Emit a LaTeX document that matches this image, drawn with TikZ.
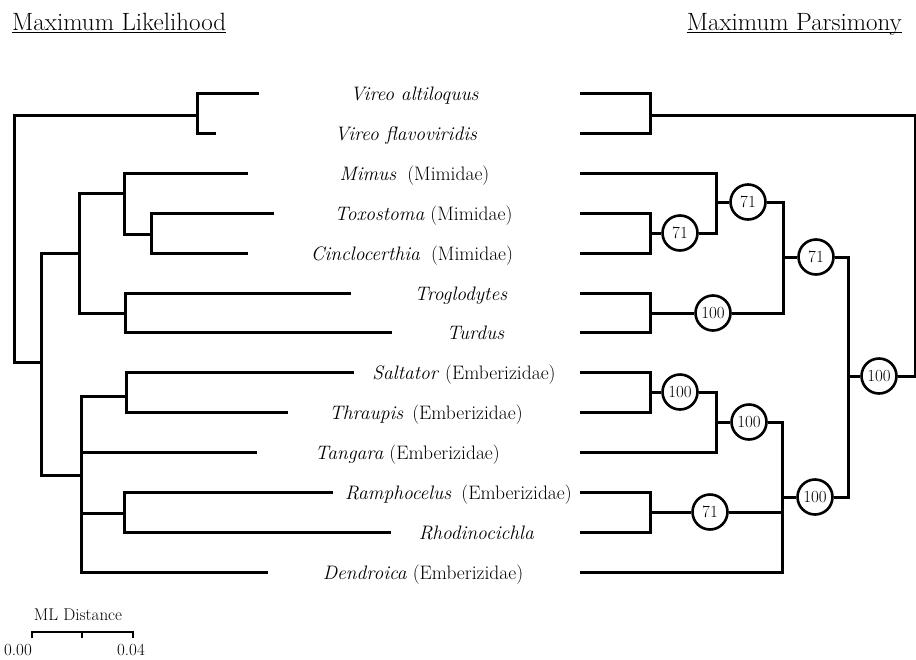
\documentclass[tikz,border=0pt]{standalone}
\begin{document}
\begin{tikzpicture}[x=1pt,y=-1pt,
  br/.style={line width=3pt, line join=miter, line cap=butt},
  lab/.style={anchor=base, inner sep=0pt, font=\fontsize{19.5}{21}\selectfont},
  ttl/.style={inner sep=0pt, font=\fontsize{25}{28}\selectfont},
  bs/.style={circle, draw, line width=2.6pt, minimum size=35pt, inner sep=0pt, fill=white, font=\fontsize{17}{18}\selectfont},
  sml/.style={inner sep=0pt, anchor=base, font=\fontsize{17}{19}\selectfont},
  ]
\useasboundingbox (0,0) rectangle (916,659);
% titles
\node[ttl, anchor=base west] (t1) at (12,30.5) {Maximum Likelihood};
\node[ttl, anchor=base east] (t2) at (902,30.5) {Maximum Parsimony};
\draw[line width=1.2pt] ([yshift=-2pt]t1.base west) -- ([yshift=-2pt]t1.base east);
\draw[line width=1.2pt] ([yshift=-2pt]t2.base west) -- ([yshift=-2pt]t2.base east);
% taxon labels
\node[lab] (l0) at (414.5,100) {\textit{Vireo altiloquus}};
\node[lab] (l1) at (406,140) {\textit{Vireo flavoviridis}};
\node[lab] (l2) at (414.5,180) {\textit{Mimus}\hspace{5pt} (Mimidae)};
\node[lab] (l3) at (423.5,220) {\textit{Toxostoma} (Mimidae)};
\node[lab] (l4) at (412,260) {\textit{Cinclocerthia}\hspace{5pt} (Mimidae)};
\node[lab] (l5) at (461,300) {\textit{Troglodytes}};
\node[lab] (l6) at (475.5,339) {\textit{Turdus}};
\node[lab] (l7) at (464,379) {\textit{Saltator} (Emberizidae)};
\node[lab] (l8) at (426,419) {\textit{Thraupis}\hspace{3pt} (Emberizidae)};
\node[lab] (l9) at (407.5,459) {\textit{Tangara} (Emberizidae)};
\node[lab] (l10) at (458.5,499) {\textit{Ramphocelus}\hspace{4pt} (Emberizidae)};
\node[lab] (l11) at (476.5,539) {\textit{Rhodinocichla}};
\node[lab] (l12) at (423,579) {\textit{Dendroica} (Emberizidae)};
% ===== ML tree =====
\coordinate (Lva) at (259,93);  \coordinate (Lvf) at (216,133);
\coordinate (Lmi) at (248,173); \coordinate (Ltx) at (274,213);
\coordinate (Lci) at (248,253); \coordinate (Ltr) at (351,293);
\coordinate (Ltu) at (392,332); \coordinate (Lsa) at (354,372);
\coordinate (Lth) at (288,412); \coordinate (Ltg) at (257,452);
\coordinate (Lra) at (333,492); \coordinate (Lrh) at (391,532);
\coordinate (Lde) at (268,572);
\coordinate (Nv) at (197,115);
\coordinate (Nroot) at (14,240);
\coordinate (N1) at (41,362);
\coordinate (N2) at (79,253);
\coordinate (N3) at (124,193);
\coordinate (N3b) at (151,234);
\coordinate (N4) at (125,313);
\coordinate (N5) at (81,475);
\coordinate (N6) at (126,396);
\coordinate (N7) at (124,513);
\draw[br] (Lva) -| (Nv) |- (Lvf);
\draw[br] (Nv) -| (Nroot) |- (N1);
\draw[br] (N2) -| (N1) |- (N5);
\draw[br] (N3) -| (N2) |- (N4);
\draw[br] (Lmi) -| (N3) |- (N3b);
\draw[br] (Ltx) -| (N3b) |- (Lci);
\draw[br] (Ltr) -| (N4) |- (Ltu);
\draw[br] (N6) -| (N5) |- (Lde);
\draw[br] (N5 |- Ltg) -- (Ltg);
\draw[br] (N5 |- N7) -- (N7);
\draw[br] (Lsa) -| (N6) |- (Lth);
\draw[br] (Lra) -| (N7) |- (Lrh);
% scale bar
\node[sml] (mld) at (78,620) {ML Distance};
\coordinate (s0) at (32,632); \coordinate (s1) at (133,632); \coordinate (sm) at (82,632);
\draw[line width=2.2pt, line join=miter] ([yshift=-6pt]s0) -- (s0) -- (s1) -- ([yshift=-6pt]s1);
\draw[line width=2.2pt] (sm) -- ([yshift=-6pt]sm);
\node[sml] (n0) at (18,655) {0.00};
\node[sml] (n1) at (131,655) {0.04};
% ===== MP tree =====
\node[bs] (c1) at (680,233) {71};
\node[bs] (c2) at (748,202) {71};
\node[bs] (c3) at (713,313) {100};
\node[bs] (c4) at (816,257) {71};
\node[bs] (c5) at (680,392) {100};
\node[bs] (c6) at (749,422) {100};
\node[bs] (c7) at (710,512) {71};
\node[bs] (c8) at (815,497) {100};
\node[bs] (c9) at (879,376) {100};
\coordinate (P0) at (580,93);  \coordinate (P1) at (580,133);
\coordinate (P2) at (580,173); \coordinate (P3) at (580,213);
\coordinate (P4) at (580,253); \coordinate (P5) at (580,293);
\coordinate (P6) at (580,332); \coordinate (P7) at (580,372);
\coordinate (P8) at (580,412); \coordinate (P9) at (580,452);
\coordinate (P10) at (580,492); \coordinate (P11) at (580,532);
\coordinate (P12) at (580,572);
\coordinate (Pv) at (650,115);
\coordinate (Proot) at (915,245);
\coordinate (Pa) at (650,233);
\coordinate (Pb) at (716,202);
\coordinate (Pc) at (783,257);
\coordinate (Pd) at (650,313);
\coordinate (Pe) at (848,376);
\coordinate (Pf) at (650,392);
\coordinate (Pg) at (716,422);
\coordinate (Ph) at (782,497);
\coordinate (Pi) at (650,512);
\draw[br] (P0) -| (Pv) |- (P1);
\draw[br] (Pv) -| (Proot) |- (c9);
\draw[br] (P3) -| (Pa) |- (P4);
\draw[br] (Pa) -- (c1);
\draw[br] (P2) -| (Pb) |- (c1);
\draw[br] (Pb) -- (c2);
\draw[br] (c2) -| (Pc) |- (c3);
\draw[br] (Pc) -- (c4);
\draw[br] (P5) -| (Pd) |- (P6);
\draw[br] (Pd) -- (c3);
\draw[br] (c4) -| (Pe) |- (c8);
\draw[br] (Pe) -- (c9);
\draw[br] (P7) -| (Pf) |- (P8);
\draw[br] (Pf) -- (c5);
\draw[br] (c5) -| (Pg) |- (P9);
\draw[br] (Pg) -- (c6);
\draw[br] (c6) -| (Ph) |- (P12);
\draw[br] (Ph |- c7) -- (c7);
\draw[br] (Ph) -- (c8);
\draw[br] (P10) -| (Pi) |- (P11);
\draw[br] (Pi) -- (c7);
\end{tikzpicture}
\end{document}
